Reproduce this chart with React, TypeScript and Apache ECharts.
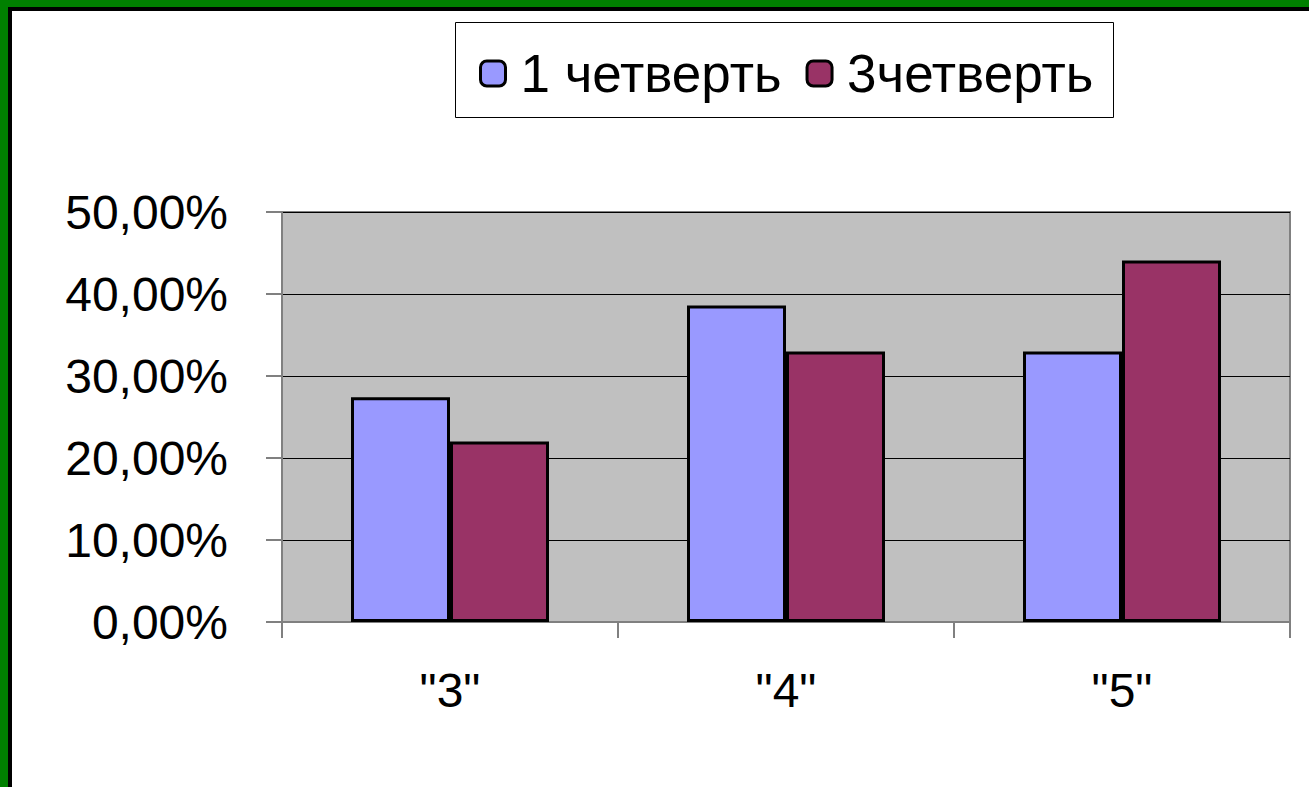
import React, { useEffect, useRef } from "react";
import * as echarts from "echarts";

const categories = ['"3"', '"4"', '"5"'];
const seriesNames = ["1 четверть", "3четверть"];
const q1Values = [27.4, 38.6, 33.0];
const q3Values = [22.0, 33.0, 44.1];
const yTicks = { min: 0, max: 50, interval: 10 };

const FONT = "'Liberation Sans', Arial, sans-serif";

export default function App() {
  const ref = useRef<HTMLDivElement>(null);
  useEffect(() => {
    document.body.style.margin = "0";
    const chart = echarts.init(ref.current!, undefined, { renderer: "svg" });
    chart.setOption({
      animation: false,
      backgroundColor: "#ffffff",
      textStyle: { fontFamily: FONT },
      graphic: [
        { type: "rect", shape: { x: 0, y: 0, width: 1309, height: 7 }, style: { fill: "#008000" }, z: 100 },
        { type: "rect", shape: { x: 0, y: 0, width: 8, height: 787 }, style: { fill: "#008000" }, z: 100 },
        { type: "rect", shape: { x: 8, y: 7, width: 1301, height: 4 }, style: { fill: "#000000" }, z: 100 },
        { type: "rect", shape: { x: 8, y: 7, width: 4, height: 780 }, style: { fill: "#000000" }, z: 100 },
        {
          type: "rect",
          shape: { x: 455.5, y: 22.5, width: 658, height: 95 },
          style: { fill: "#ffffff", stroke: "#000000", lineWidth: 1 },
          z: -1,
        },
      ],
      legend: {
        data: seriesNames,
        left: 474,
        top: 42,
        itemWidth: 25,
        itemHeight: 25,
        itemGap: 24,
        icon: "roundRect",
        itemStyle: { borderColor: "#000", borderWidth: 3 },
        textStyle: { fontSize: 53, color: "#000", fontFamily: FONT, padding: [0, 0, 0, 10] },
      },
      grid: {
        left: 282,
        top: 212,
        width: 1008,
        height: 410,
        show: true,
        backgroundColor: "#C0C0C0",
        borderColor: "#808080",
        borderWidth: 2,
      },
      xAxis: {
        type: "category",
        data: categories,
        axisLine: { lineStyle: { color: "#808080", width: 2 } },
        axisTick: { show: true, length: 16, lineStyle: { color: "#808080", width: 2 } },
        axisLabel: { fontSize: 48, color: "#000", margin: 44, fontFamily: FONT },
      },
      yAxis: {
        type: "value",
        min: yTicks.min,
        max: yTicks.max,
        interval: yTicks.interval,
        axisLine: { show: true, lineStyle: { color: "#808080", width: 2 } },
        axisTick: { show: true, length: 16, lineStyle: { color: "#808080", width: 2 } },
        axisLabel: {
          fontSize: 48,
          color: "#000",
          margin: 54,
          fontFamily: FONT,
          formatter: (v: number) => v.toFixed(2).replace(".", ",") + "%",
        },
        splitLine: { show: true, lineStyle: { color: "#000", width: 1 } },
      },
      series: [
        {
          name: seriesNames[0],
          type: "bar",
          data: q1Values,
          barWidth: 99,
          barGap: "0%",
          itemStyle: { color: "#9999FF", borderColor: "#000", borderWidth: 3 },
        },
        {
          name: seriesNames[1],
          type: "bar",
          data: q3Values,
          barWidth: 99,
          barGap: "0%",
          itemStyle: { color: "#993366", borderColor: "#000", borderWidth: 3 },
        },
      ],
    });
    return () => chart.dispose();
  }, []);
  return (
    <div
      ref={ref}
      style={{ position: "absolute", left: 0, top: 0, width: 1309, height: 787 }}
    />
  );
}
